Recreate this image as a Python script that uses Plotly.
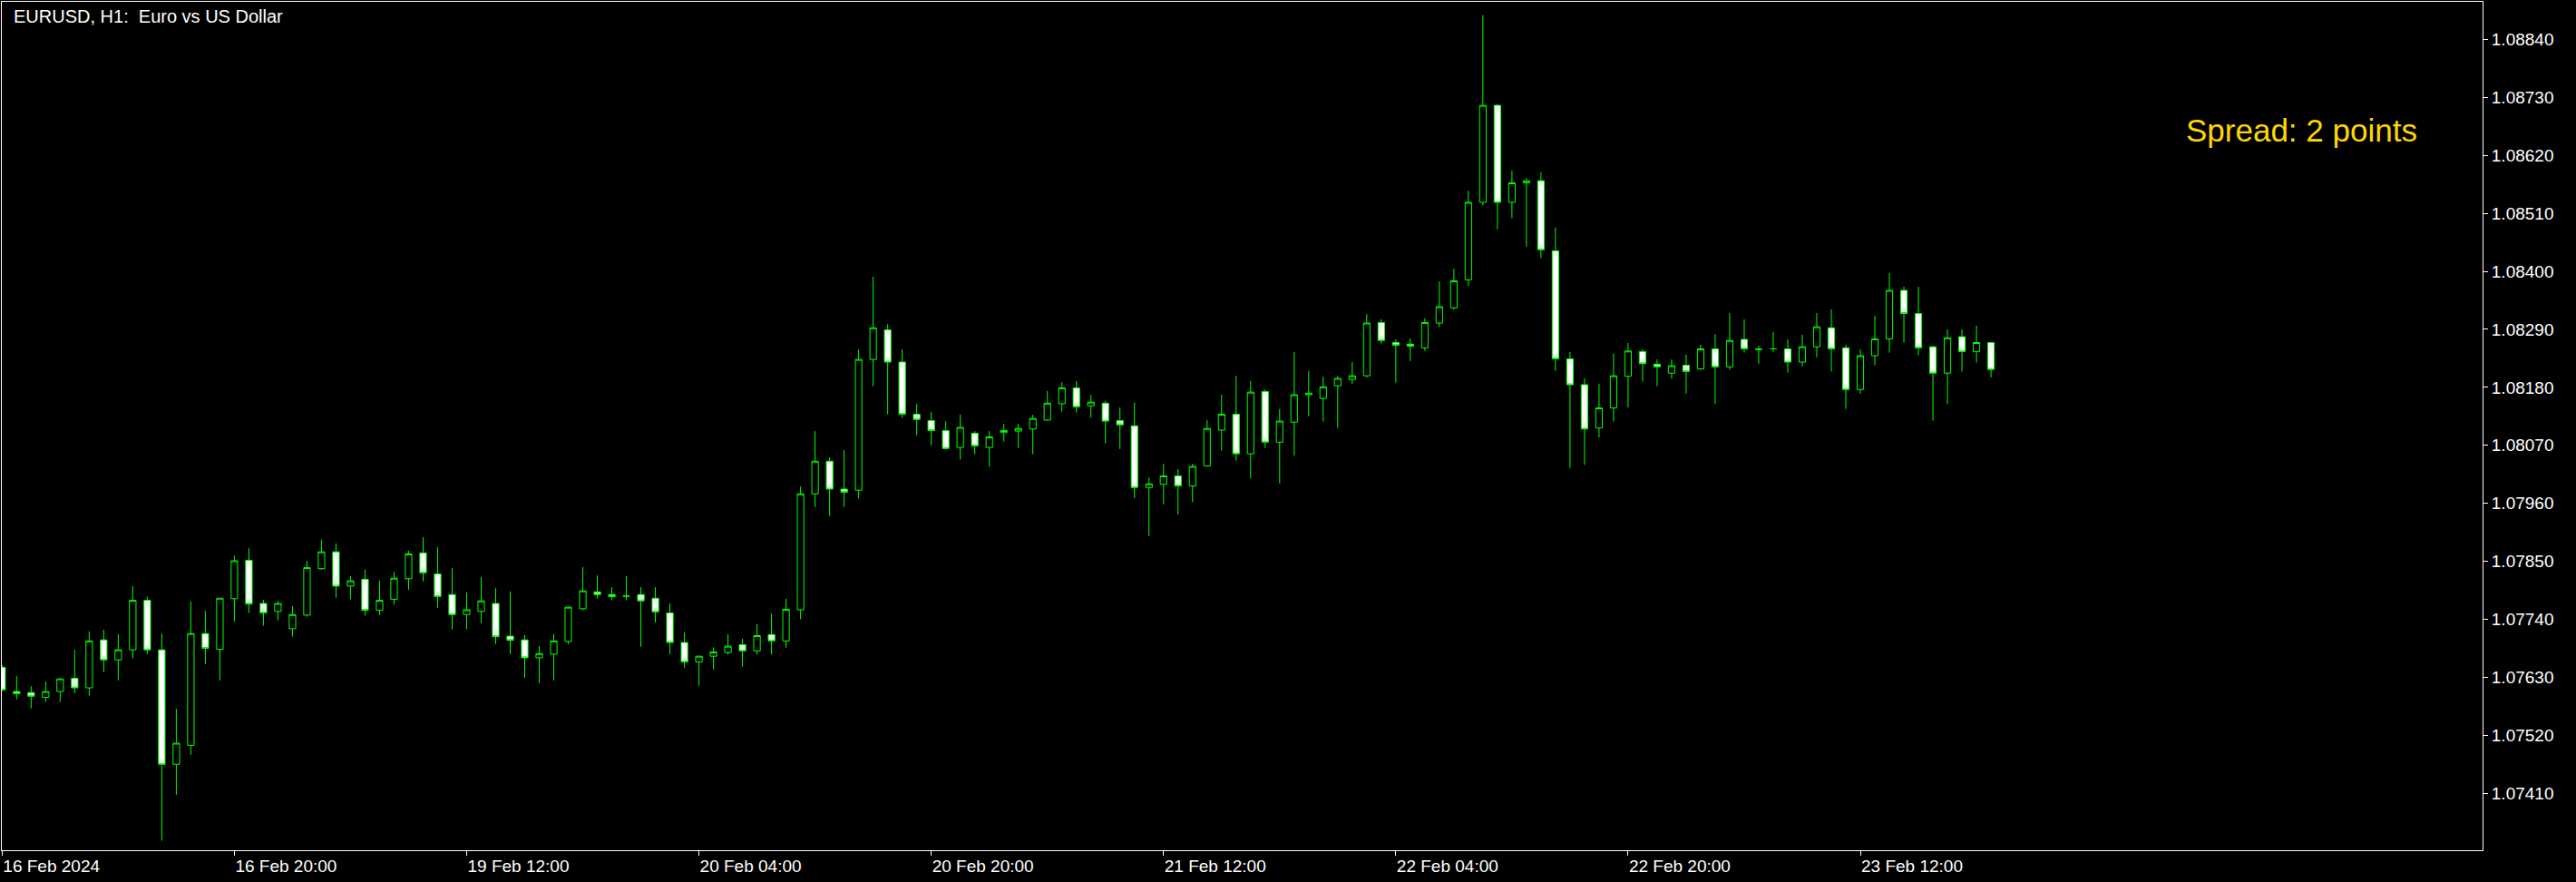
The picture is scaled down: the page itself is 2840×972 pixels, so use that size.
import pandas as pd
import plotly.graph_objects as go

# EURUSD H1 bars, 16 Feb 2024 04:00 .. 23 Feb 2024 21:00
open_ = [
    1.07649, 1.07603, 1.07601, 1.07592, 1.07603, 1.07628, 1.07610, 1.07701, 1.07663, 1.07682,
    1.07776, 1.07682, 1.07465, 1.07501, 1.07713, 1.07683, 1.07779, 1.07852, 1.07770, 1.07755,
    1.07722, 1.07748, 1.07836, 1.07868, 1.07803, 1.07816, 1.07757, 1.07778, 1.07817, 1.07866,
    1.07826, 1.07787, 1.07749, 1.07755, 1.07770, 1.07708, 1.07701, 1.07667, 1.07674, 1.07698,
    1.07760, 1.07792, 1.07787, 1.07784, 1.07787, 1.07780, 1.07752, 1.07696, 1.07659, 1.07670,
    1.07677, 1.07692, 1.07680, 1.07711, 1.07699, 1.07758, 1.07978, 1.08040, 1.07987, 1.07985,
    1.08233, 1.08289, 1.08228, 1.08129, 1.08117, 1.08098, 1.08066, 1.08093, 1.08066, 1.08094,
    1.08097, 1.08101, 1.08118, 1.08149, 1.08179, 1.08145, 1.08150, 1.08117, 1.08107, 1.07990,
    1.07996, 1.08012, 1.07993, 1.08031, 1.08099, 1.08129, 1.08054, 1.08172, 1.08076, 1.08114,
    1.08166, 1.08159, 1.08183, 1.08195, 1.08202, 1.08303, 1.08265, 1.08262, 1.08255, 1.08302,
    1.08331, 1.08384, 1.08531, 1.08715, 1.08531, 1.08568, 1.08572, 1.08439, 1.08234, 1.08185,
    1.08103, 1.08141, 1.08201, 1.08248, 1.08224, 1.08207, 1.08222, 1.08215, 1.08253, 1.08219,
    1.08271, 1.08253, 1.08253, 1.08253, 1.08228, 1.08257, 1.08293, 1.08255, 1.08176, 1.08240,
    1.08272, 1.08364, 1.08320, 1.08257, 1.08207, 1.08276, 1.08248, 1.08265,
]
high = [
    1.07653, 1.07632, 1.07613, 1.07622, 1.07629, 1.07682, 1.07717, 1.07720, 1.07712, 1.07803,
    1.07783, 1.07713, 1.07570, 1.07774, 1.07756, 1.07780, 1.07861, 1.07875, 1.07777, 1.07775,
    1.07765, 1.07851, 1.07891, 1.07884, 1.07822, 1.07834, 1.07813, 1.07830, 1.07870, 1.07896,
    1.07877, 1.07837, 1.07791, 1.07820, 1.07799, 1.07793, 1.07710, 1.07689, 1.07712, 1.07765,
    1.07839, 1.07823, 1.07801, 1.07822, 1.07801, 1.07801, 1.07770, 1.07715, 1.07671, 1.07687,
    1.07712, 1.07703, 1.07731, 1.07751, 1.07779, 1.07992, 1.08097, 1.08047, 1.08061, 1.08252,
    1.08390, 1.08300, 1.08252, 1.08149, 1.08133, 1.08116, 1.08128, 1.08097, 1.08097, 1.08111,
    1.08111, 1.08128, 1.08173, 1.08190, 1.08192, 1.08166, 1.08154, 1.08142, 1.08151, 1.08009,
    1.08035, 1.08025, 1.08035, 1.08118, 1.08166, 1.08202, 1.08192, 1.08176, 1.08139, 1.08247,
    1.08211, 1.08200, 1.08202, 1.08228, 1.08319, 1.08309, 1.08271, 1.08273, 1.08311, 1.08381,
    1.08405, 1.08553, 1.08886, 1.08717, 1.08591, 1.08577, 1.08588, 1.08483, 1.08247, 1.08197,
    1.08187, 1.08244, 1.08264, 1.08252, 1.08233, 1.08233, 1.08242, 1.08261, 1.08281, 1.08321,
    1.08309, 1.08259, 1.08285, 1.08271, 1.08280, 1.08321, 1.08328, 1.08261, 1.08252, 1.08316,
    1.08397, 1.08371, 1.08371, 1.08259, 1.08290, 1.08290, 1.08297, 1.08266,
]
low = [
    1.07603, 1.07588, 1.07571, 1.07583, 1.07583, 1.07600, 1.07595, 1.07640, 1.07624, 1.07666,
    1.07674, 1.07320, 1.07407, 1.07483, 1.07655, 1.07624, 1.07736, 1.07752, 1.07728, 1.07738,
    1.07707, 1.07745, 1.07834, 1.07781, 1.07778, 1.07747, 1.07748, 1.07768, 1.07796, 1.07812,
    1.07762, 1.07721, 1.07721, 1.07733, 1.07693, 1.07674, 1.07629, 1.07619, 1.07624, 1.07693,
    1.07757, 1.07779, 1.07776, 1.07776, 1.07688, 1.07734, 1.07674, 1.07648, 1.07614, 1.07645,
    1.07673, 1.07650, 1.07673, 1.07673, 1.07686, 1.07740, 1.07953, 1.07936, 1.07953, 1.07969,
    1.08182, 1.08129, 1.08122, 1.08089, 1.08070, 1.08062, 1.08043, 1.08053, 1.08029, 1.08077,
    1.08065, 1.08053, 1.08117, 1.08134, 1.08132, 1.08122, 1.08074, 1.08063, 1.07970, 1.07898,
    1.07958, 1.07939, 1.07962, 1.08030, 1.08060, 1.08041, 1.08008, 1.08065, 1.07998, 1.08051,
    1.08125, 1.08115, 1.08103, 1.08186, 1.08199, 1.08263, 1.08189, 1.08230, 1.08249, 1.08294,
    1.08327, 1.08373, 1.08525, 1.08480, 1.08501, 1.08447, 1.08425, 1.08211, 1.08027, 1.08033,
    1.08085, 1.08115, 1.08142, 1.08191, 1.08182, 1.08196, 1.08168, 1.08213, 1.08148, 1.08213,
    1.08246, 1.08225, 1.08247, 1.08208, 1.08220, 1.08237, 1.08210, 1.08139, 1.08168, 1.08222,
    1.08246, 1.08265, 1.08241, 1.08117, 1.08148, 1.08210, 1.08227, 1.08199,
]
close = [
    1.07606, 1.07599, 1.07594, 1.07603, 1.07627, 1.07610, 1.07699, 1.07663, 1.07682, 1.07776,
    1.07682, 1.07465, 1.07505, 1.07713, 1.07685, 1.07780, 1.07851, 1.07769, 1.07752, 1.07770,
    1.07749, 1.07838, 1.07868, 1.07803, 1.07813, 1.07757, 1.07776, 1.07818, 1.07864, 1.07828,
    1.07783, 1.07749, 1.07758, 1.07775, 1.07707, 1.07700, 1.07667, 1.07675, 1.07699, 1.07763,
    1.07794, 1.07787, 1.07783, 1.07784, 1.07775, 1.07754, 1.07696, 1.07659, 1.07670, 1.07678,
    1.07689, 1.07680, 1.07709, 1.07699, 1.07759, 1.07978, 1.08040, 1.07987, 1.07981, 1.08233,
    1.08293, 1.08228, 1.08129, 1.08119, 1.08098, 1.08064, 1.08104, 1.08069, 1.08086, 1.08098,
    1.08102, 1.08121, 1.08150, 1.08179, 1.08143, 1.08152, 1.08116, 1.08109, 1.07990, 1.07997,
    1.08012, 1.07993, 1.08030, 1.08102, 1.08129, 1.08054, 1.08171, 1.08076, 1.08116, 1.08166,
    1.08169, 1.08181, 1.08197, 1.08202, 1.08302, 1.08269, 1.08260, 1.08258, 1.08303, 1.08333,
    1.08382, 1.08531, 1.08715, 1.08531, 1.08568, 1.08572, 1.08441, 1.08234, 1.08185, 1.08101,
    1.08141, 1.08202, 1.08249, 1.08225, 1.08219, 1.08221, 1.08210, 1.08253, 1.08219, 1.08269,
    1.08253, 1.08252, 1.08253, 1.08228, 1.08257, 1.08295, 1.08253, 1.08176, 1.08240, 1.08272,
    1.08364, 1.08320, 1.08255, 1.08207, 1.08274, 1.08248, 1.08265, 1.08214,
]

price_ticks = [1.07410, 1.07520, 1.07630, 1.07740, 1.07850, 1.07960, 1.08070,
               1.08180, 1.08290, 1.08400, 1.08510, 1.08620, 1.08730, 1.08840]
date_labels = ["16 Feb 2024", "16 Feb 20:00", "19 Feb 12:00", "20 Feb 04:00", "20 Feb 20:00",
               "21 Feb 12:00", "22 Feb 04:00", "22 Feb 20:00", "23 Feb 12:00"]

# hourly bars without the weekend
times = pd.date_range("2024-02-16 04:00", "2024-02-23 21:00", freq="h")
times = times[times.dayofweek < 5]
x = list(times.strftime("%Y-%m-%d %H:%M"))

GREEN = "#00FF00"
FONT = "Liberation Sans"

fig = go.Figure()

fig.add_trace(
    go.Candlestick(
        x=x,
        open=open_,
        high=high,
        low=low,
        close=close,
        increasing=dict(line=dict(color=GREEN, width=1), fillcolor="black"),
        decreasing=dict(line=dict(color=GREEN, width=1), fillcolor="white"),
        whiskerwidth=0,
        showlegend=False,
    )
)

# chart caption and spread label
fig.add_annotation(
    text="EURUSD, H1:\u00a0 Euro vs US Dollar",
    xref="paper", yref="paper", x=0.0039, y=0.9834,
    xanchor="left", yanchor="middle", showarrow=False,
    font=dict(family=FONT, size=20, color="white"),
)
fig.add_annotation(
    text="Spread: 2 points",
    xref="paper", yref="paper", x=0.8797, y=0.849,
    xanchor="left", yanchor="middle", showarrow=False,
    font=dict(family=FONT, size=35, color="#FFD700"),
)

fig.update_layout(
    width=2840,
    height=972,
    margin=dict(l=2, r=103, t=2, b=35),
    plot_bgcolor="black",
    paper_bgcolor="black",
    font=dict(family=FONT, size=19, color="white"),
    boxgap=0.36,
    showlegend=False,
)

fig.update_xaxes(
    type="category",
    range=[-0.02, 170.86],
    rangeslider_visible=False,
    tickvals=x[::16],
    ticktext=date_labels,
    ticklabelposition="outside right",
    ticks="outside",
    ticklen=5,
    tickcolor="white",
    tickfont=dict(family=FONT, size=19, color="white"),
    showgrid=False,
    zeroline=False,
    showline=True,
    mirror=True,
    linecolor="white",
    linewidth=1,
)

fig.update_yaxes(
    side="right",
    range=[1.073019, 1.089114],
    tickvals=price_ticks,
    ticktext=[f"{p:.5f}" for p in price_ticks],
    ticks="outside",
    ticklen=5,
    tickcolor="white",
    tickfont=dict(family=FONT, size=19, color="white"),
    showgrid=False,
    zeroline=False,
    showline=True,
    mirror=True,
    linecolor="white",
    linewidth=1,
)

# page has a default 8px body margin; drop it so the chart fills the window
fig.write_html(
    "out.html",
    config={"displayModeBar": False},
    post_script="document.body.style.margin = '0px';",
)
